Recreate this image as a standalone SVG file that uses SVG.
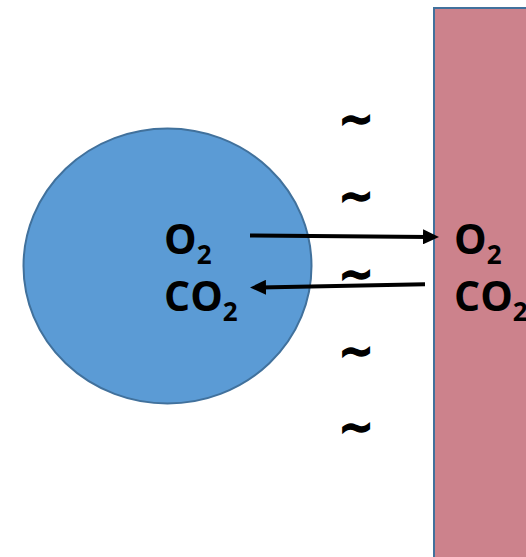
<svg xmlns="http://www.w3.org/2000/svg" width="526" height="557" viewBox="0 0 526 557">
  <defs>
    <style>
      .lbl { font-family: "Open Sans", "Liberation Sans", Arial, sans-serif; font-weight: bold; font-size: 41px; fill: #000; }
      .sub { font-size: 26px; }
      .tilde { font-family: "DejaVu Sans", "Liberation Sans", sans-serif; font-weight: bold; font-size: 42px; fill: #000; stroke: #000; stroke-width: 1.6; text-anchor: middle; }
      .conn { stroke: #000; stroke-width: 4; fill: none; }
    </style>
    <marker id="arrow" viewBox="0 0 16 15" refX="6" refY="7.5" markerWidth="16" markerHeight="15" markerUnits="userSpaceOnUse" orient="auto">
      <path d="M0,0 L16,7.5 L0,15 Z" fill="#000"/>
    </marker>
  </defs>
  <rect width="526" height="557" fill="#FFFFFF"/>
  <g id="tissue">
    <rect x="434" y="8" width="100" height="560" fill="#CC828C" stroke="#41719C" stroke-width="2"/>
    <text class="lbl" x="454" y="254">O<tspan class="sub" dy="10">2</tspan></text>
    <text class="lbl" x="454" y="311">CO<tspan class="sub" dy="10">2</tspan></text>
  </g>
  <g id="cell">
    <ellipse cx="167.5" cy="266" rx="144" ry="137.5" fill="#5B9BD5" stroke="#41719C" stroke-width="2"/>
    <text class="lbl" x="164" y="254">O<tspan class="sub" dy="10">2</tspan></text>
    <text class="lbl" x="164" y="311">CO<tspan class="sub" dy="10">2</tspan></text>
  </g>
  <g id="gap">
    <text class="tilde" x="356" y="134">~</text>
    <text class="tilde" x="356" y="211">~</text>
    <text class="tilde" x="356" y="289">~</text>
    <text class="tilde" x="356" y="366">~</text>
    <text class="tilde" x="356" y="442">~</text>
  </g>
  <g id="connectors">
    <line class="conn" x1="250" y1="235.5" x2="429" y2="236.9" marker-end="url(#arrow)"/>
    <line class="conn" x1="425" y1="284.3" x2="260" y2="287.4" marker-end="url(#arrow)"/>
  </g>
</svg>
